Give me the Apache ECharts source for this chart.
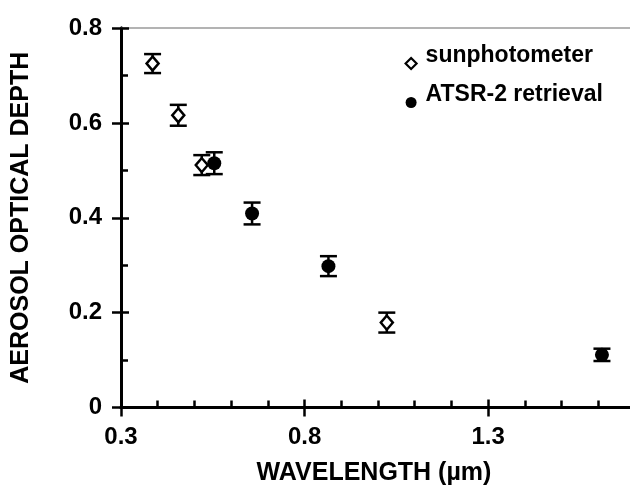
<!DOCTYPE html>
<html>
<head>
<meta charset="utf-8">
<script src="https://cdn.jsdelivr.net/npm/echarts@6/dist/echarts.min.js"></script>
<style>html,body{margin:0;padding:0;background:#fff}#c{width:630px;height:491px}</style>
</head>
<body>
<div id="c"></div>
<script>
var xTitle = 'WAVELENGTH (µm)';
var yTitle = 'AEROSOL OPTICAL DEPTH';
var seriesNames = ['sunphotometer', 'ATSR-2 retrieval'];
var sunX = [0.386, 0.456, 0.520, 1.024];
var sunY = [0.725, 0.616, 0.511, 0.179];
var sunErr = [0.020, 0.022, 0.021, 0.021];
var atsrX = [0.554, 0.657, 0.865, 1.610];
var atsrY = [0.515, 0.409, 0.298, 0.111];
var atsrErr = [0.023, 0.023, 0.021, 0.013];

var FONT = "'Liberation Sans', Arial, sans-serif";
var BLACK = '#000';

function pts(xs, ys) { return xs.map(function (x, i) { return [x, ys[i]]; }); }
function errData(xs, ys, es) { return xs.map(function (x, i) { return [x, ys[i] - es[i], ys[i] + es[i]]; }); }

function errRender(params, api) {
  var lo = api.coord([api.value(0), api.value(1)]);
  var hi = api.coord([api.value(0), api.value(2)]);
  var hw = 8.5;
  var st = { stroke: BLACK, lineWidth: 2.5 };
  return {
    type: 'group',
    children: [
      { type: 'line', shape: { x1: lo[0], y1: lo[1], x2: hi[0], y2: hi[1] }, style: st },
      { type: 'line', shape: { x1: lo[0] - hw, y1: lo[1], x2: lo[0] + hw, y2: lo[1] }, style: st },
      { type: 'line', shape: { x1: hi[0] - hw, y1: hi[1], x2: hi[0] + hw, y2: hi[1] }, style: st }
    ]
  };
}

var xBase = { type: 'value', min: 0.3, max: 1.7, interval: 0.5, gridIndex: 0 };
var yBase = { type: 'value', min: 0, max: 0.8, interval: 0.2, gridIndex: 0 };
var axLine = { show: true, lineStyle: { color: BLACK, width: 3 } };

var chart = echarts.init(document.getElementById('c'), null, { renderer: 'canvas' });
chart.setOption({
  animation: false,
  backgroundColor: '#fff',
  grid: { left: 121, right: -5, top: 28, bottom: 83.5, containLabel: false, outerBoundsMode: 'none' },
  legend: {
    orient: 'vertical', left: 404.5, top: 44, itemGap: 0, padding: 0,
    itemWidth: 11, itemHeight: 11,
    formatter: function (name) { return '{t|' + name + '}'; },
    textStyle: {
      fontFamily: FONT, fontSize: 23, fontWeight: 'bold', color: BLACK,
      rich: { t: { fontFamily: FONT, fontSize: 23, fontWeight: 'bold', color: BLACK, lineHeight: 25, padding: [0, 0, 16, 4] } }
    },
    data: [
      { name: seriesNames[0], icon: 'diamond', itemStyle: { color: '#fff', borderColor: BLACK, borderWidth: 2.2 } },
      { name: seriesNames[1], icon: 'circle', itemStyle: { color: BLACK } }
    ]
  },
  xAxis: [
    Object.assign({}, xBase, {
      position: 'bottom',
      name: xTitle, nameLocation: 'middle', nameGap: 53,
      nameTextStyle: { fontFamily: FONT, fontSize: 25, fontWeight: 'bold', color: BLACK, padding: [0, 8, 0, 0] },
      axisLine: axLine,
      axisTick: { show: true, inside: false, length: 9, lineStyle: { color: BLACK, width: 2.5 } },
      minorTick: { show: false },
      axisLabel: { show: true, margin: 18, fontFamily: FONT, fontSize: 24, fontWeight: 'bold', color: BLACK,
        formatter: function (v) { return v > 1.5 ? '' : v.toFixed(1); } },
      splitLine: { show: false }
    }),
    Object.assign({}, xBase, {
      position: 'bottom',
      axisLine: axLine,
      axisTick: { show: true, inside: true, length: 8, lineStyle: { color: BLACK, width: 2.5 } },
      minorTick: { show: true, splitNumber: 5, length: 7, lineStyle: { color: BLACK, width: 2.5 } },
      axisLabel: { show: false },
      splitLine: { show: false }
    }),
    Object.assign({}, xBase, {
      position: 'top',
      axisLine: { show: true, lineStyle: { color: '#9a9a9a', width: 1.5 } },
      axisTick: { show: false }, axisLabel: { show: false }, splitLine: { show: false }
    })
  ],
  yAxis: [
    Object.assign({}, yBase, {
      position: 'left',
      name: yTitle, nameLocation: 'middle', nameGap: 87, nameRotate: 90,
      nameTextStyle: { fontFamily: FONT, fontSize: 25, fontWeight: 'bold', color: BLACK },
      axisLine: axLine,
      axisTick: { show: true, inside: false, length: 9, lineStyle: { color: BLACK, width: 2.5 } },
      axisLabel: { show: true, margin: 19, fontFamily: FONT, fontSize: 24, fontWeight: 'bold', color: BLACK,
        formatter: function (v) { return v === 0 ? '0' : v.toFixed(1); } },
      splitLine: { show: false }
    }),
    Object.assign({}, yBase, {
      position: 'left',
      axisLine: axLine,
      axisTick: { show: true, inside: true, length: 8, lineStyle: { color: BLACK, width: 2.5 } },
      minorTick: { show: true, splitNumber: 2, length: 7, lineStyle: { color: BLACK, width: 2.5 } },
      axisLabel: { show: false },
      splitLine: { show: false }
    })
  ],
  series: [
    {
      type: 'custom', name: 'sunErr', xAxisIndex: 0, yAxisIndex: 0,
      renderItem: errRender, data: errData(sunX, sunY, sunErr), z: 3, silent: true,
      encode: { x: 0, y: [1, 2] }
    },
    {
      type: 'scatter', name: seriesNames[0], xAxisIndex: 0, yAxisIndex: 0,
      symbol: 'diamond', symbolSize: [12, 14],
      itemStyle: { color: '#fff', borderColor: BLACK, borderWidth: 2.5, opacity: 1 },
      data: pts(sunX, sunY), z: 4
    },
    {
      type: 'custom', name: 'atsrErr', xAxisIndex: 0, yAxisIndex: 0,
      renderItem: errRender, data: errData(atsrX, atsrY, atsrErr), z: 5, silent: true,
      encode: { x: 0, y: [1, 2] }
    },
    {
      type: 'scatter', name: seriesNames[1], xAxisIndex: 0, yAxisIndex: 0,
      symbol: 'circle', symbolSize: 14,
      itemStyle: { color: BLACK, opacity: 1 },
      data: pts(atsrX, atsrY), z: 6
    }
  ]
});
</script>
</body>
</html>
